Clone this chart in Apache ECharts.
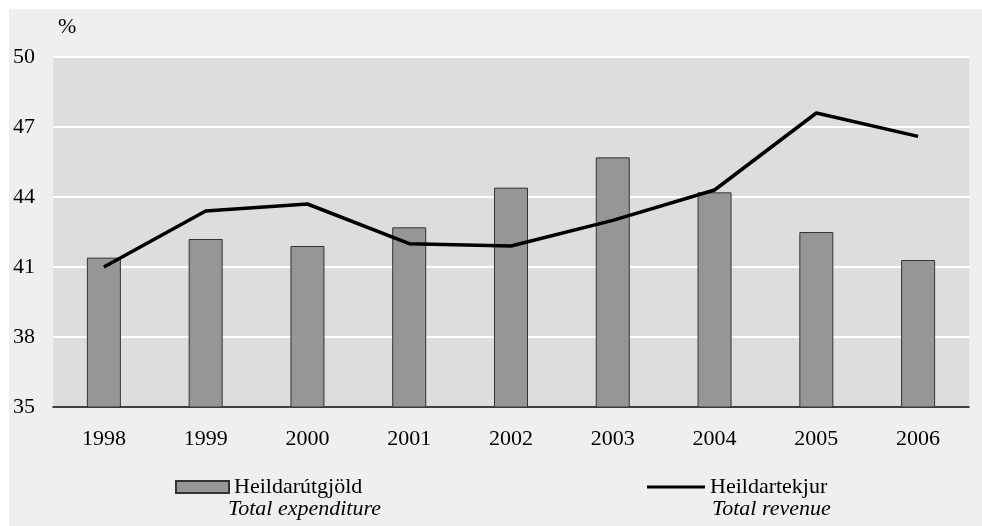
<!DOCTYPE html>
<html>
<head>
<meta charset="utf-8">
<script src="https://cdn.jsdelivr.net/npm/echarts@6/dist/echarts.min.js"></script>
<style>
  html, body { margin: 0; padding: 0; background: #ffffff; }
  #chart { width: 982px; height: 526px; }
</style>
</head>
<body>
<div id="chart"></div>
<script>
// data
const years = ['1998', '1999', '2000', '2001', '2002', '2003', '2004', '2005', '2006'];
const expenditure = [41.4, 42.2, 41.9, 42.7, 44.4, 45.7, 44.2, 42.5, 41.3];
const revenue = [41.0, 43.4, 43.7, 42.0, 41.9, 43.0, 44.3, 47.6, 46.6];
const barName = 'Heildarútgjöld';
const barNameEn = 'Total expenditure';
const lineName = 'Heildartekjur';
const lineNameEn = 'Total revenue';

const font = 'Liberation Serif, Times New Roman, serif';
const fs = 22;

const chart = echarts.init(document.getElementById('chart'));

chart.setOption({
  backgroundColor: '#ffffff',
  animation: false,
  textStyle: { fontFamily: font, color: '#000' },
  graphic: [
    {
      type: 'rect',
      z: -10,
      shape: { x: 9, y: 9, width: 982, height: 526 },
      style: { fill: '#efefef' }
    },
    {
      type: 'text',
      left: 228,
      top: 498,
      style: { text: barNameEn, font: 'italic ' + fs + 'px ' + font, fill: '#000' }
    },
    {
      type: 'text',
      left: 712,
      top: 498,
      style: { text: lineNameEn, font: 'italic ' + fs + 'px ' + font, fill: '#000' }
    }
  ],
  grid: {
    left: 53,
    right: 13,
    top: 57,
    bottom: 119,
    show: true,
    backgroundColor: '#dddddd',
    borderWidth: 0
  },
  legend: [
    {
      data: [barName],
      left: 170,
      top: 471,
      icon: 'rect',
      itemWidth: 53,
      itemHeight: 12,
      itemGap: 8,
      textStyle: { fontFamily: font, fontSize: fs, color: '#000' }
    },
    {
      data: [lineName],
      left: 642,
      top: 471,
      icon: 'rect',
      itemWidth: 58,
      itemHeight: 3,
      itemGap: 6,
      textStyle: { fontFamily: font, fontSize: fs, color: '#000' }
    }
  ],
  xAxis: {
    type: 'category',
    data: years,
    axisLine: { lineStyle: { color: '#000', width: 1.5 } },
    axisTick: { show: false },
    axisLabel: { fontFamily: font, fontSize: fs, color: '#000', margin: 21 }
  },
  yAxis: {
    type: 'value',
    min: 35,
    max: 50,
    interval: 3,
    name: '%',
    nameGap: 19,
    nameTextStyle: { fontFamily: font, fontSize: fs, color: '#000', align: 'left', padding: [0, 0, 0, 5] },
    axisLine: { show: false },
    axisTick: { show: false },
    axisLabel: { fontFamily: font, fontSize: fs, color: '#000', margin: 18 },
    splitLine: { lineStyle: { color: '#ffffff', width: 2 } }
  },
  series: [
    {
      name: barName,
      type: 'bar',
      data: expenditure,
      barWidth: 34,
      itemStyle: { color: '#969696', borderColor: '#333333', borderWidth: 1 }
    },
    {
      name: lineName,
      type: 'line',
      data: revenue,
      symbol: 'none',
      lineStyle: { color: '#000', width: 3.5 },
      itemStyle: { color: '#000' }
    }
  ]
});
</script>
</body>
</html>
